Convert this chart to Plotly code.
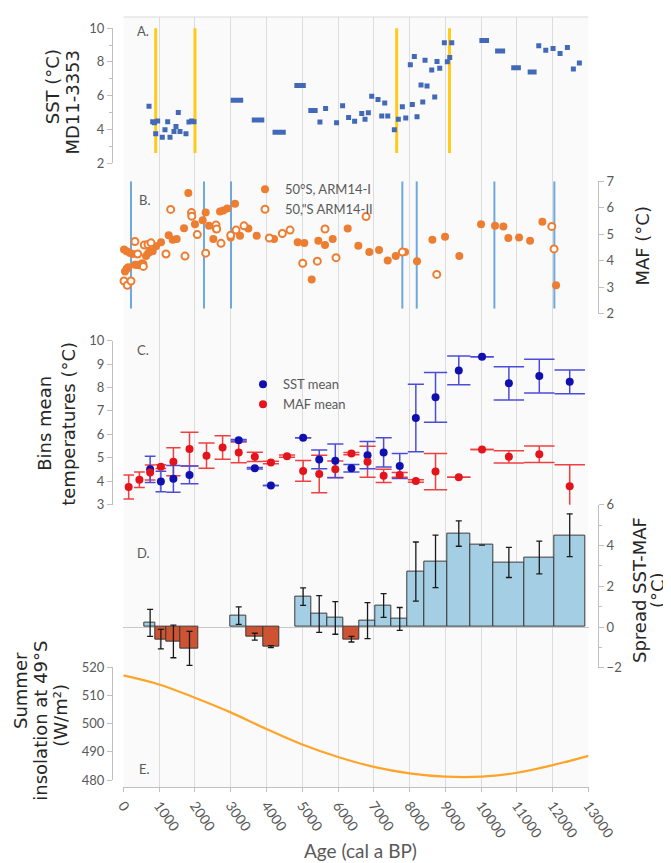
import plotly.graph_objects as go

# ---------------- data ----------------
age_ticks = list(range(0, 13001, 1000))

# Panel A: SST MD11-3353 (single samples)
sst_age = [718, 820, 867, 960, 905, 1090, 1165, 1240, 1305, 1416, 1472, 1537, 1584, 1751, 1835, 1910, 1975,
           5495, 5653, 5960, 6128, 6296, 6464, 6663, 6755, 6848, 6942, 7118, 7222, 7306, 7390, 7574, 7686,
           7798, 7893, 8021, 8077, 8133, 8208, 8320, 8368, 8432, 8488, 8619, 8703, 8767, 8843, 8972, 9055,
           9122, 9178, 11610, 11806, 12010, 12205, 12410, 12577, 12745]
sst_val = [5.38, 4.46, 4.40, 4.50, 3.74, 3.54, 3.98, 4.46, 3.54, 3.88, 4.17, 5.00, 3.88, 3.74, 4.44, 4.50, 4.46,
           4.44, 5.24, 4.40, 5.40, 4.71, 4.48, 4.95, 4.60, 4.99, 5.96, 5.77, 4.80, 5.57, 4.80, 3.98, 4.60,
           5.34, 4.68, 7.84, 5.47, 8.32, 4.75, 6.64, 5.63, 8.10, 6.58, 7.52, 5.92, 8.03, 7.62, 9.14, 8.01,
           8.26, 9.14, 8.96, 8.69, 8.79, 8.50, 8.85, 7.58, 7.93]
# Panel A: SST samples spanning an age interval
sst_seg_start = [3000, 3590, 4170, 4780, 5170, 9950, 10390, 10840, 11300]
sst_seg_end = [3350, 3940, 4540, 5100, 5430, 10220, 10670, 11110, 11550]
sst_seg_val = [5.73, 4.56, 3.84, 6.60, 5.12, 9.27, 8.65, 7.66, 7.40]
yellow_ages = [905, 2003, 7640, 9115]
yellow_span = [2.6, 10.25]

# Panel B: MAF
maf1_age = [-92, -92, -28, 20, 95, 187, 262, 48, 95, 140, 327, 380, 439, 523, 560, 634, 699, 746, 820, 914,
            1054, 1268, 1380, 1492, 1697, 1817, 1911, 2003, 2218, 2302, 2395, 2516, 2591, 2703, 2795, 2907,
            3002, 3122, 3262, 3494, 3728, 4212, 4874, 5059, 5265, 5450, 5637, 5852, 6271, 6568, 6875, 7146,
            7389, 7613, 7873, 8208, 8637, 8991, 9391, 9997, 10388, 10621, 10760, 11059, 11367, 11711, 12094]
maf1_val = [6.35, 6.07, 5.76, 4.43, 4.36, 4.30, 4.26, 3.60, 3.70, 3.76, 3.85, 3.85, 3.83, 3.91, 3.88, 4.18, 4.30,
            4.35, 4.36, 4.55, 4.70, 4.97, 4.80, 4.82, 5.23, 6.56, 5.69, 5.38, 5.53, 5.82, 5.32, 4.82, 5.20,
            5.86, 5.90, 5.97, 4.88, 6.15, 4.95, 5.22, 4.95, 4.82, 4.70, 4.67, 3.30, 4.76, 4.60, 4.82, 5.22,
            4.57, 4.33, 4.41, 4.01, 4.18, 4.33, 3.99, 4.80, 4.91, 4.18, 5.38, 5.32, 5.30, 4.86, 4.88, 4.76,
            5.47, 3.08]
maf2_age = [-64, 20, 112, 215, 325, 402, 560, 587, 690, 774, 1193, 1324, 1724, 1905, 1915, 2068, 2302, 2590,
            2610, 2731, 3002, 3150, 3373, 4081, 4444, 4659, 5014, 5422, 5637, 5945, 6783, 7798, 8759, 11973,
            12037]
maf2_val = [2.21, 3.24, 3.08, 3.24, 4.73, 4.26, 3.79, 4.60, 4.62, 4.68, 4.26, 5.94, 4.18, 5.82, 5.68, 4.99,
            4.29, 5.35, 5.20, 4.66, 4.97, 5.16, 5.32, 4.86, 5.03, 5.16, 3.91, 3.99, 5.20, 4.12, 5.67, 4.33,
            3.49, 5.30, 4.45]
blue_ages = [215, 2255, 3010, 7798, 8200, 10370, 12046]
blue_span = [2.2, 7.0]

# Panel C: bin means
bin_edges = [0, 300, 600, 900, 1200, 1600, 2100, 2550, 3000, 3450, 3900, 4350, 4800, 5250, 5700, 6150,
             6600, 7050, 7500, 7950, 8400, 9050, 9700, 10350, 11200, 12050, 12900]
maf_mean = [3.75, 4.06, 4.37, 4.62, 4.83, 5.37, 5.09, 5.44, 5.23, 5.04, 4.80, 5.07, 4.44, 4.31, 4.51, 5.18,
            4.83, 4.23, 4.27, 4.01, 4.41, 4.17, 5.35, 5.04, 5.15, 3.78]
maf_err = [0.51, 0.33, 0.32, 0.08, 0.60, 0.72, 0.54, 0.50, 0.44, 0.20, 0.05, 0.05, 0.44, 0.80, 0.35, 0.05,
           0.66, 0.28, 0.10, 0.05, 0.77, 0.0, 0.0, 0.26, 0.35, 0.92]
sst_mean = [None, None, 4.51, 3.99, 4.10, 4.27, None, None, 5.75, 4.55, 3.82, None, 5.86, 4.93, 4.87, 4.55,
            5.11, 5.23, 4.65, 6.70, 7.58, 8.73, 9.31, 8.18, 8.49, 8.24]
sst_err = [None, None, 0.56, 0.44, 0.57, 0.38, None, None, 0.03, 0.03, 0.0, None, 0.0, 0.40, 0.72, 0.16,
           0.58, 0.62, 0.53, 1.44, 1.06, 0.61, 0.0, 0.71, 0.72, 0.51]

# Panel D: spread SST-MAF per bin
spread = [None, None, 0.21, -0.59, -0.70, -1.04, None, None, 0.56, -0.47, -0.96, None, 1.49, 0.64, 0.45,
          -0.59, 0.32, 1.06, 0.40, 2.72, 3.22, 4.58, 4.02, 3.17, 3.41, 4.50]
spread_err = [None, None, 0.66, 0.48, 0.80, 0.83, None, None, 0.43, 0.17, 0.05, None, 0.43, 0.90, 0.80,
              0.14, 0.88, 0.58, 0.56, 1.45, 1.29, 0.62, None, 0.74, 0.80, 1.05]

# Panel E: summer insolation 49°S
ins_age = list(range(0, 13001, 1000))
ins_val = [517.1, 513.9, 509.2, 504.0, 498.1, 492.6, 488.2, 484.7, 482.4, 481.2, 481.2, 482.6, 485.3, 488.6]

# ---------------- helpers ----------------
def vsegments(xs, span):
    X, Y = [], []
    for x in xs:
        X += [x, x, None]
        Y += [span[0], span[1], None]
    return X, Y

def hsegments(x0s, x1s, ys):
    X, Y = [], []
    for a, b, y in zip(x0s, x1s, ys):
        X += [a, b, None]
        Y += [y, y, None]
    return X, Y

def bin_errors(edges, vals, errs):
    X, Y, cx, cy = [], [], [], []
    for i, v in enumerate(vals):
        if v is None:
            continue
        lo, hi = edges[i], edges[i + 1]
        c = (lo + hi) / 2
        e = errs[i] or 0.0
        cx.append(c)
        cy.append(v)
        X += [c, c, None, lo, hi, None, lo, hi, None]
        Y += [v - e, v + e, None, v - e, v - e, None, v + e, v + e, None]
    return X, Y, cx, cy

GRAY = "#595959"
AXC = "#bfbfbf"
TICKFONT = dict(family="Lato, Noto Sans, sans-serif", size=13, color=GRAY)
XTICKFONT = dict(family="Lato, Noto Sans, sans-serif", size=14, color=GRAY)
TITLEFONT = dict(family="DejaVu Sans, sans-serif", size=18, color="#262626")

fig = go.Figure()

# full-height grid carrier
fig.add_trace(go.Scatter(x=[None], y=[None], yaxis="y", showlegend=False, hoverinfo="skip"))

# Panel A
yx, yy = vsegments(yellow_ages, yellow_span)
fig.add_trace(go.Scatter(x=yx, y=yy, mode="lines", line=dict(color="#FFCA1A", width=3),
                         yaxis="y2", showlegend=False, hoverinfo="skip"))
sx, sy = hsegments(sst_seg_start, sst_seg_end, sst_seg_val)
fig.add_trace(go.Scatter(x=sx, y=sy, mode="lines", line=dict(color="#4169B8", width=5),
                         yaxis="y2", showlegend=False, hoverinfo="skip"))
fig.add_trace(go.Scatter(x=sst_age, y=sst_val, mode="markers",
                         marker=dict(symbol="square", size=5, color="#4169B8"),
                         yaxis="y2", showlegend=False))

# Panel B
bx, by = vsegments(blue_ages, blue_span)
fig.add_trace(go.Scatter(x=bx, y=by, mode="lines", line=dict(color="#6FA8DC", width=2),
                         yaxis="y3", showlegend=False, hoverinfo="skip"))
fig.add_trace(go.Scatter(x=maf1_age, y=maf1_val, mode="markers", name="50°S, ARM14-I",
                         marker=dict(symbol="circle", size=8, color="#ED7D31"),
                         yaxis="y3", cliponaxis=False, legend="legend"))
fig.add_trace(go.Scatter(x=maf2_age, y=maf2_val, mode="markers", name='50,"S ARM14-II',
                         marker=dict(symbol="circle", size=7, color="white",
                                     line=dict(color="#ED7D31", width=2)),
                         yaxis="y3", cliponaxis=False, legend="legend"))

# Panel C
mx, my, mcx, mcy = bin_errors(bin_edges, maf_mean, maf_err)
tx, ty, tcx, tcy = bin_errors(bin_edges, sst_mean, sst_err)
fig.add_trace(go.Scatter(x=mx, y=my, mode="lines", line=dict(color="#EE4040", width=1.5),
                         yaxis="y4", showlegend=False, hoverinfo="skip"))
fig.add_trace(go.Scatter(x=tx, y=ty, mode="lines", line=dict(color="#4C4CDA", width=1.5),
                         yaxis="y4", showlegend=False, hoverinfo="skip"))
fig.add_trace(go.Scatter(x=tcx, y=tcy, mode="markers", name="SST mean",
                         marker=dict(size=8, color="#1010B0"), yaxis="y4", legend="legend2"))
fig.add_trace(go.Scatter(x=mcx, y=mcy, mode="markers", name="MAF mean",
                         marker=dict(size=8, color="#E3141B"), yaxis="y4", legend="legend2"))

# Panel D
bc, bw, bv, be, bcol = [], [], [], [], []
for i, v in enumerate(spread):
    if v is None:
        continue
    lo, hi = bin_edges[i], bin_edges[i + 1]
    bc.append((lo + hi) / 2)
    bw.append(hi - lo)
    bv.append(v)
    be.append(spread_err[i])
    bcol.append("#A3CEE3" if v >= 0 else "#CD5332")
fig.add_trace(go.Bar(x=bc, y=bv, width=bw, yaxis="y5", showlegend=False,
                     marker=dict(color=bcol, line=dict(color="#3a3a3a", width=1)),
                     error_y=dict(type="data", array=be, color="#1a1a1a", thickness=1.3, width=3)))

# Panel E
fig.add_trace(go.Scatter(x=ins_age, y=ins_val, mode="lines", line=dict(color="#FFA42A", width=2.2, shape="spline"),
                         yaxis="y6", showlegend=False))

# ---------------- layout ----------------
# the page body adds an 8px offset; positions below are given in screen pixels
OFF = 8
W, H = 671 - OFF, 863 - OFF
L, R, T, B = 112 - OFF, 73, 9 - OFF, 76
PW = W - L - R
PH = H - T - B

def px_x(p):
    return (p - OFF - L) / PW

def px_y(p):
    return (H - B - (p - OFF)) / PH

xdom = [px_x(123.3), px_x(588.5)]

def yax(dom, rng, side="left", dtick=1, minor=None, **kw):
    d = dict(domain=dom, range=rng, anchor="free", position=0 if side == "left" else 1, side=side,
             showline=True, linecolor=AXC, linewidth=1, ticks="outside", ticklen=5, tickcolor=AXC,
             tickfont=TICKFONT, showgrid=False, zeroline=False, dtick=dtick, tick0=0)
    if minor:
        d["minor"] = dict(ticks="outside", dtick=minor, ticklen=3, tickcolor=AXC, showgrid=False)
    d.update(kw)
    return d

fig.update_layout(
    width=W, height=H,
    margin=dict(l=L, r=R, t=T, b=B),
    paper_bgcolor="white", plot_bgcolor="rgba(0,0,0,0)",
    hovermode=False, bargap=0,
    xaxis=dict(domain=xdom, range=[0, 13000], anchor="free", position=0,
               tickvals=age_ticks, ticktext=[str(v) for v in age_ticks], tickangle=55,
               tickfont=XTICKFONT, showline=True, linecolor=AXC, ticks="outside", ticklen=4,
               tickcolor=AXC, showgrid=True, gridcolor="#dcdcdc", gridwidth=1, zeroline=False),
    yaxis=dict(domain=[0, 1], range=[0, 1], visible=False, anchor="free", position=0),
    yaxis2=yax([px_y(156.7), px_y(20.3)], [2, 10], dtick=2, minor=1),
    yaxis3=yax([px_y(309), px_y(175)], [2, 7], side="right", dtick=1),
    yaxis4=yax([px_y(501.7), px_y(336)], [3, 10], dtick=1),
    yaxis5=yax([px_y(666.7), px_y(501.7)], [-2, 6], side="right", dtick=2, minor=1,
               zeroline=True, zerolinecolor="#c8c8c8", zerolinewidth=1.2),
    yaxis6=yax([px_y(780), px_y(666)], [480, 520], dtick=10),
    legend=dict(x=px_x(245), y=px_y(168), xanchor="left", yanchor="top", bgcolor="rgba(0,0,0,0)",
                font=dict(family="Lato, sans-serif", size=13, color=GRAY), tracegroupgap=0),
    legend2=dict(x=px_x(243), y=px_y(365), xanchor="left", yanchor="top", bgcolor="rgba(0,0,0,0)",
                 font=dict(family="Lato, sans-serif", size=13, color=GRAY), tracegroupgap=0),
    shapes=[
        dict(type="rect", xref="x", yref="paper", x0=0, x1=13000, y0=0, y1=1,
             fillcolor="#fafafa", line=dict(width=0), layer="below"),
        dict(type="line", xref="x", yref="paper", x0=0, x1=13000, y0=1, y1=1,
             line=dict(color="#d9d9d9", width=1), layer="below"),
    ],
)

ann = []
panel_labels = [("A.", "y2", 330, 9.85), ("B.", "y3", 380, 6.28), ("C.", "y4", 330, 9.58),
                ("D.", "y5", 330, 3.65), ("E.", "y6", 380, 484)]
for t, yr, x, y in panel_labels:
    ann.append(dict(text=t, xref="x", yref=yr, x=x, y=y, xanchor="left", yanchor="middle",
                    showarrow=False, font=dict(family="Lato, sans-serif", size=13, color=GRAY)))

titles = [("SST (°C)", 52, 80), ("MD11-3353", 72.5, 95),
          ("MAF (°C)", 643, 240),
          ("Bins mean", 45, 420), ("temperatures (°C)", 69, 420),
          ("Spread SST-MAF", 639, 588), ("(°C)", 657, 588),
          ("Summer", 21, 690), ("insolation at 49°S", 41, 720), ("(W/m²)", 61, 715)]
for t, cx, cy in titles:
    ann.append(dict(text=t, xref="paper", yref="paper", x=px_x(cx), y=px_y(cy), xanchor="center",
                    yanchor="middle", textangle=-90, showarrow=False, font=TITLEFONT))
ann.append(dict(text="Age (cal a BP)", xref="paper", yref="paper", x=px_x(360), y=px_y(851),
                xanchor="center", yanchor="middle", showarrow=False,
                font=dict(family="Lato, sans-serif", size=19, color=GRAY)))
fig.update_layout(annotations=ann)

fig.write_html("out.html")
